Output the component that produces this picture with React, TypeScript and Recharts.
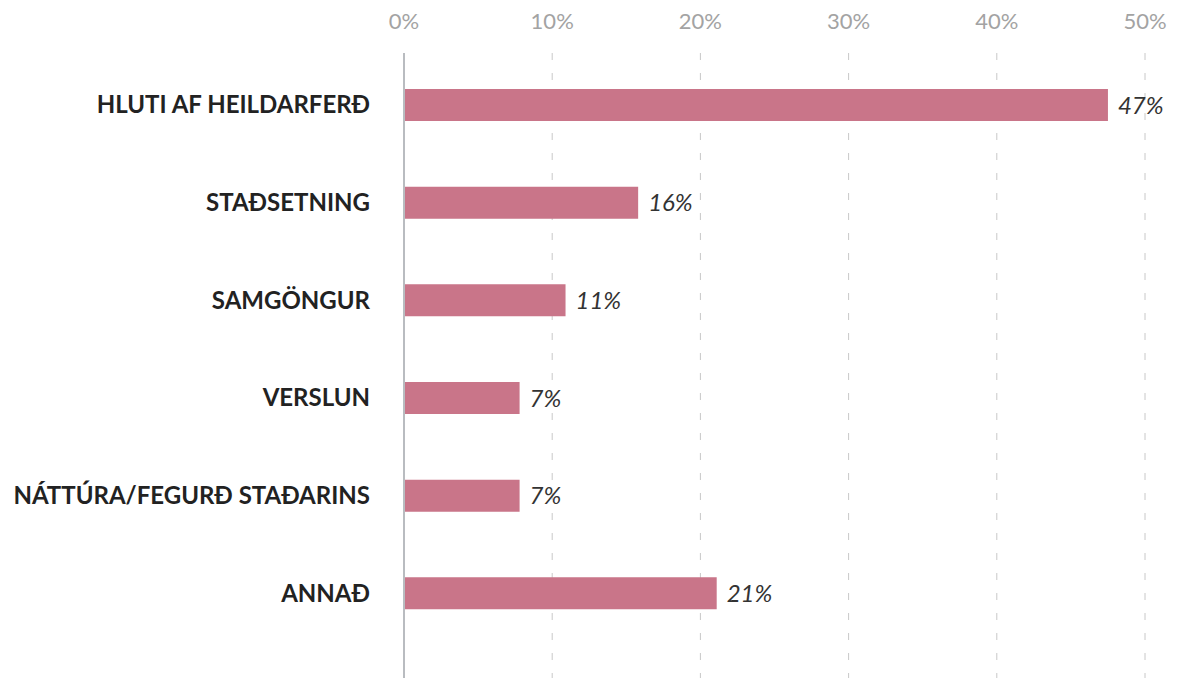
import { BarChart, Bar, XAxis, YAxis, CartesianGrid, LabelList } from 'recharts';

const categories = [
  'HLUTI AF HEILDARFERÐ',
  'STAÐSETNING',
  'SAMGÖNGUR',
  'VERSLUN',
  'NÁTTÚRA/FEGURÐ STAÐARINS',
  'ANNAÐ',
];
const shares = [47.5, 15.8, 10.9, 7.8, 7.8, 21.1];
const shareLabels = ['47%', '16%', '11%', '7%', '7%', '21%'];
const xTicks = [0, 10, 20, 30, 40, 50];

const data = categories.map((name, i) => ({ name, share: shares[i], label: shareLabels[i] }));

const font = 'Lato, "Noto Sans", sans-serif';

export default function App() {
  return (
    <div style={{ position: 'absolute', left: 0, top: 0, width: 1203, height: 678, background: '#fff' }}>
      <BarChart
        width={1203}
        height={678}
        data={data}
        layout="vertical"
        margin={{ top: 0, right: 58, bottom: 0, left: 0 }}
        barSize={32}
      >
        <CartesianGrid horizontal={false} stroke="#c8c8c8" strokeDasharray="7 13" />
        <XAxis
          type="number"
          orientation="top"
          domain={[0, 50]}
          ticks={xTicks}
          tickFormatter={(v: number) => `${v}%`}
          axisLine={false}
          tickLine={false}
          tickSize={0}
          tickMargin={24}
          height={53}
          tick={{ fill: '#a3a3a3', fontSize: 22, fontWeight: 400, fontFamily: font }}
        />
        <YAxis
          type="category"
          dataKey="name"
          width={404}
          axisLine={{ stroke: '#b9bcc0', strokeWidth: 2 }}
          tickLine={false}
          tickSize={0}
          tickMargin={34}
          padding={{ top: 3, bottom: 36 }}
          tick={{ fill: '#222', fontSize: 24, fontWeight: 700, fontFamily: font }}
        />
        <Bar dataKey="share" fill="#c97589" isAnimationActive={false}>
          <LabelList
            dataKey="label"
            position="right"
            offset={10}
            style={{ fill: '#333', fontSize: 24, fontStyle: 'italic', fontFamily: font }}
          />
        </Bar>
      </BarChart>
    </div>
  );
}
